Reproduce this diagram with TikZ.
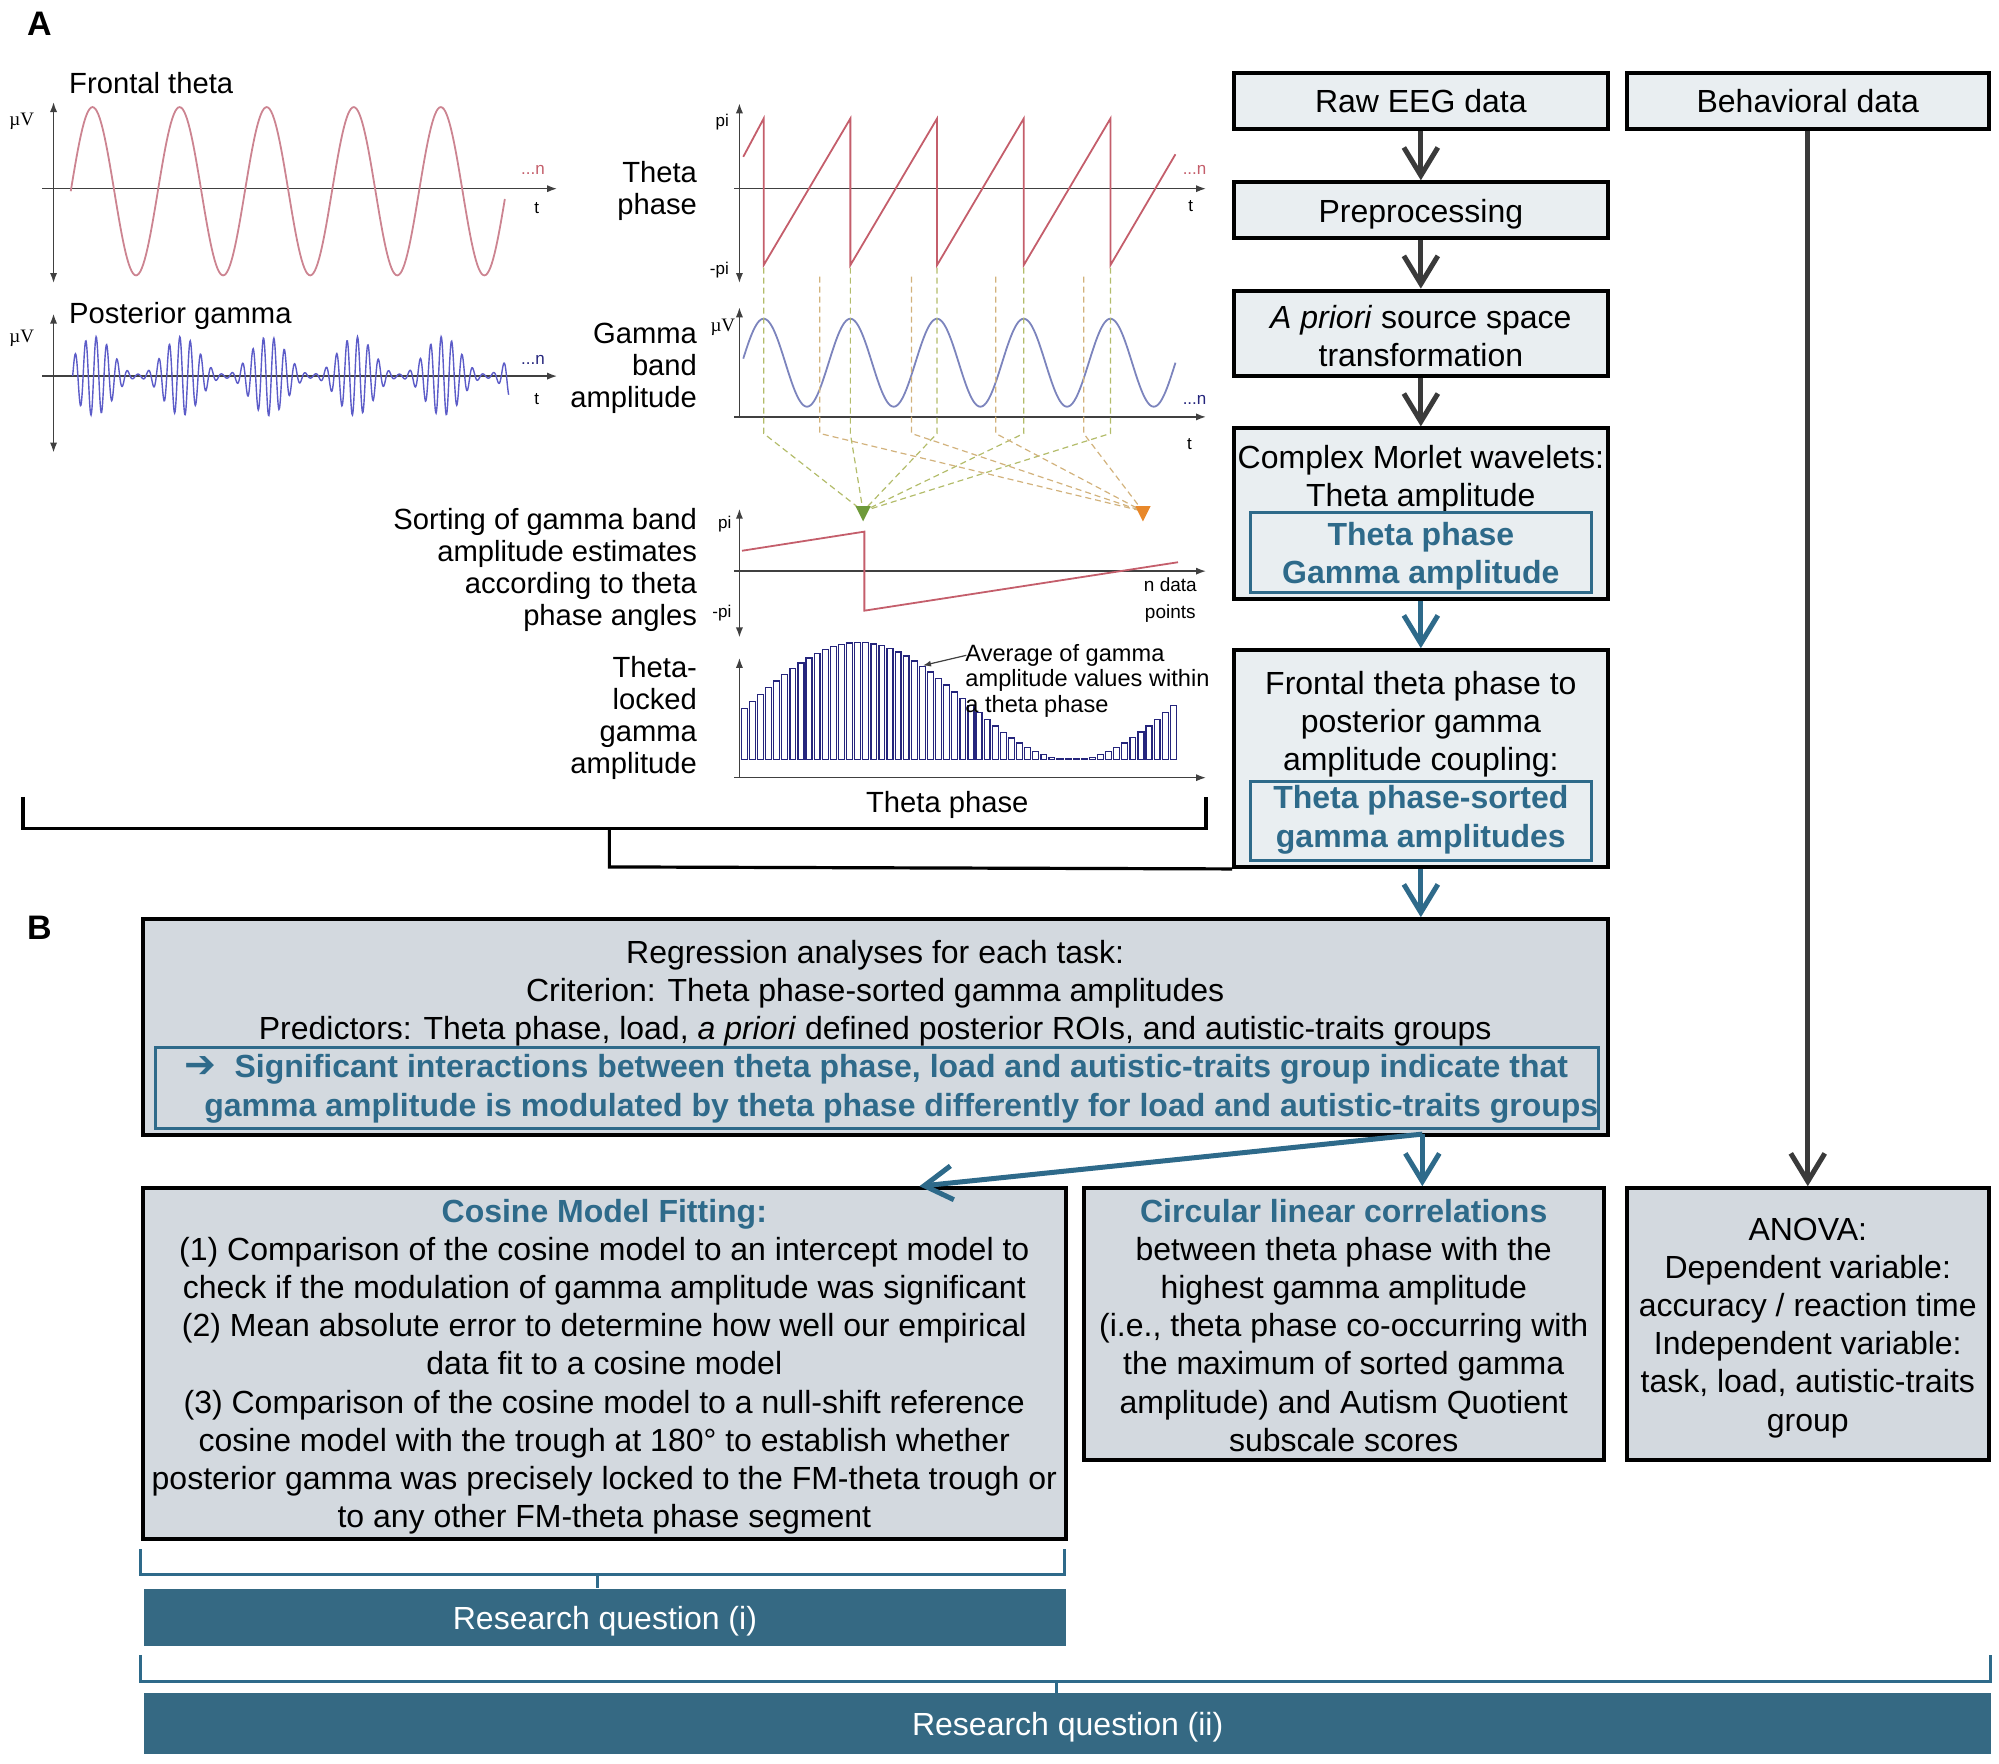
\documentclass[tikz,border=0pt]{standalone}
\usepackage{fontspec}
\setmainfont{Liberation Sans}
\newfontfamily\dejavu{DejaVu Sans}
\newfontfamily\lserif{Liberation Serif}
\usetikzlibrary{arrows.meta,calc}
\definecolor{boxfillA}{HTML}{E9EEF1}
\definecolor{boxfillB}{HTML}{D3D9DF}
\definecolor{bluetxt}{HTML}{2E6A8A}
\definecolor{rqfill}{HTML}{356983}
\definecolor{darkarrow}{HTML}{3A3A3A}
\definecolor{axisgray}{HTML}{404040}
\definecolor{thetared}{HTML}{CC8491}
\definecolor{sawred}{HTML}{C45E6B}
\definecolor{gammablue}{HTML}{5C5CC8}
\definecolor{ampblue}{HTML}{7C84BD}
\definecolor{barnavy}{HTML}{25257C}
\definecolor{dashgreen}{HTML}{B3BC6A}
\definecolor{dashorange}{HTML}{D2B27C}
\definecolor{ptgreen}{HTML}{6E9A3A}
\definecolor{ptorange}{HTML}{E8882A}
\newcommand\boxfont{\fontsize{16}{19.1}\selectfont}
\newcommand\plotfont{\fontsize{14.6}{15.9}\selectfont}
\newcommand\tickfont{\fontsize{8.5}{10}\selectfont}
\newcommand\annfont{\fontsize{11.8}{12.75}\selectfont}
\newcommand\mufont{\lserif\fontsize{9.5}{11}\selectfont}
\newcommand\pxu{0.6375pt}
\begin{document}
\begin{tikzpicture}[x=0.6375pt,y=-0.6375pt,
  wh/.style 2 args={minimum width=#1*\pxu, minimum height=#2*\pxu},
  box/.style={draw=black, line width=2pt, fill=boxfillA, inner sep=0pt},
  boxB/.style={box, fill=boxfillB},
  innerbox/.style={draw=bluetxt, line width=1.5pt, inner sep=0pt},
  bluebold/.style={text=bluetxt, font=\boxfont\bfseries, align=center, inner sep=0pt},
  txt/.style={font=\boxfont, align=center, inner sep=0pt},
  rq/.style={fill=rqfill, draw=none, inner sep=0pt},
  graydown/.style={draw=darkarrow, line width=2.5pt, -{Straight Barb[length=14pt,width=17pt]}},
  bluedown/.style={graydown, draw=bluetxt},
  bracket/.style={line width=1.6pt, draw=black},
  bbracket/.style={line width=1.4pt, draw=bluetxt},
  ax/.style={draw=axisgray, line width=0.75pt},
  axr/.style={ax, -{Latex[length=5pt,width=3.6pt]}},
  axb/.style={ax, {Latex[length=5pt,width=3.6pt]}-{Latex[length=5pt,width=3.6pt]}},
  plotlab/.style={font=\plotfont, inner sep=0pt},
  ticklab/.style={font=\tickfont, inner sep=0pt},
  mulab/.style={font=\mufont, inner sep=0pt},
  dashG/.style={draw=dashgreen, line width=0.6pt, dash pattern=on 3pt off 2pt},
  dashO/.style={draw=dashorange, line width=0.6pt, dash pattern=on 3pt off 2pt},
  panel/.style={font=\fontsize{17}{20}\selectfont\bfseries, inner sep=0pt}
]
\useasboundingbox (0,0) rectangle (1568,1383.6);

% ---------- panel labels
\node[panel] (labA) at (31,19) {A};
\node[panel] (labB) at (31,727.5) {B};

% ---------- frontal theta plot
\node[plotlab, anchor=west] (ftl) at (54,65) {Frontal theta};
\node[mulab] (mu1) at (17,95) {µV};
\draw[axb] (42,80) -- (42,222);
\draw[axr] (33,148) -- (437,148);
\draw[thetared, line width=0.9pt] plot[domain=55.5:396, samples=300] (\x,{150-66*sin(5.2709*(\x-55.5))});
\node[ticklab, text=sawred] (n1) at (418,133) {...n};
\node[ticklab] (t1) at (421,163) {t};

% ---------- posterior gamma plot
\node[plotlab, anchor=west] (pgl) at (54,247.5) {Posterior gamma};
\node[mulab] (mu2) at (17,265) {µV};
\draw[axb] (42,246) -- (42,355);
\draw[axr] (33,295) -- (437,295);
\draw[gammablue, line width=0.7pt] plot[domain=57:399, samples=950]
  (\x,{295-31*(0.05+0.95*(0.501+0.5*cos(5.2709*(\x-74)))^1.2)*sin(43.902*(\x-57))});
\node[ticklab, text=barnavy] (n2) at (418,282) {...n};
\node[ticklab] (t2) at (421,313) {t};

% ---------- theta phase plot
\node[plotlab, align=right, anchor=east] (thph) at (547,150) {Theta\\phase};
\node[ticklab, anchor=east] (pi1) at (572,96) {pi};
\node[ticklab, anchor=east] (mpi1) at (572,212) {-pi};
\draw[axb] (580,81) -- (580,222);
\draw[axr] (576,148) -- (946,148);
\draw[sawred, line width=0.9pt] (583,123) -- (599,93) -- (599,208) -- (667,93) -- (667,208) -- (735,93)
  -- (735,208) -- (803,93) -- (803,208) -- (871,93) -- (871,208) -- (922,121);
\node[ticklab, text=sawred] (n3) at (937,133) {...n};
\node[ticklab] (t3) at (934,162) {t};

% ---------- gamma band amplitude plot
\node[plotlab, align=right, anchor=east] (gba) at (547,289) {Gamma\\band\\amplitude};
\node[mulab] (mu3) at (567,257) {µV};
\draw[axr] (580,327) -- (580,241);
\draw[axr] (576,327) -- (946,327);
\draw[ampblue, line width=0.9pt] plot[domain=583:922, samples=300] (\x,{284.5-34.5*cos(5.2941*(\x-599))});
\node[ticklab, text=barnavy] (n4) at (937,314) {...n};
\node[ticklab] (t4) at (933,348) {t};

% ---------- dashed sorting lines
\foreach \xx in {599,667,735,803,871} \draw[dashG] (\xx,210) -- (\xx,340) -- (677,401);
\foreach \xx in {643,715,781,850} \draw[dashO] (\xx,217) -- (\xx,340) -- (896.5,401);
\fill[ptgreen] (671,397) -- (683,397) -- (677,409) -- cycle;
\fill[ptorange] (890.5,397) -- (902.5,397) -- (896.5,409) -- cycle;

% ---------- sorted phase plot
\node[plotlab, align=right, anchor=east] (sort) at (547,447) {Sorting of gamma band\\amplitude estimates\\according to theta\\phase angles};
\node[ticklab, anchor=east] (pi2) at (574,411) {pi};
\node[ticklab, anchor=east] (mpi2) at (574,481) {-pi};
\draw[axb] (580,399) -- (580,500);
\draw[axr] (576,448) -- (946,448);
\draw[sawred, line width=0.9pt] (582,432) -- (678,417) -- (678,479) -- (924,441);
\node[ticklab, font=\fontsize{9.5}{11}\selectfont] (nd) at (918,459) {n data};
\node[ticklab, font=\fontsize{9.5}{11}\selectfont] (np) at (918,481) {points};

% ---------- bar plot
\node[plotlab, align=right, anchor=east] (tlga) at (547,563) {Theta-\\locked\\gamma\\amplitude};
\draw[axr] (580,610) -- (580,516);
\draw[axr] (576,610) -- (946,610);
\foreach \i in {0,...,53}{
  \pgfmathsetmacro\xa{581.5+6.35*\i}
  \pgfmathsetmacro\hh{max(1.2,46+46*cos(1.0778*(\xa-671.6)))}
  \draw[barnavy, line width=0.65pt, fill=white] (\xa,596) rectangle ({\xa+4.6},{596-\hh});
}
\node[plotlab] (thp) at (743,631) {Theta phase};
\node[font=\annfont, inner sep=0pt, align=left, anchor=north west] (ann) at (757,505) {Average of gamma\\amplitude values within\\a theta phase};
\coordinate (annfrom) at (758,514);
\coordinate (annto) at (724,522);
\draw[axisgray, line width=0.6pt, -{Latex[length=4pt,width=3pt]}] (annfrom) -- (annto);

% ---------- flowchart A
\node[box, wh={293}{44}] (raw) at (1114.5,79) {};
\node[txt] (rawT) at (1114.5,79.5) {Raw EEG data};
\node[box, wh={293}{44}] (pre) at (1114.5,165) {};
\node[txt] (preT) at (1114.5,168) {Preprocessing};
\node[box, wh={293}{67}] (apr) at (1114.5,261.5) {};
\node[txt] (aprT) at (1114.5,263.5) {\textit{A priori} source space\\transformation};
\node[box, wh={293}{134}] (morlet) at (1114.5,403) {};
\node[txt] (morletT) at (1114.5,376) {Complex Morlet wavelets:\\Theta amplitude};
\node[innerbox, wh={267}{63}] (morletI) at (1114.5,433.5) {};
\node[bluebold] (morletB) at (1114.5,436) {Theta phase\\Gamma amplitude};
\node[box, wh={293}{170}] (front) at (1114.5,595) {};
\node[txt] (frontT) at (1114.5,568) {Frontal theta phase to\\posterior gamma\\amplitude coupling:};
\node[innerbox, wh={267}{62}] (frontI) at (1114.5,644) {};
\node[bluebold] (frontB) at (1114.5,643) {Theta phase-sorted\\gamma amplitudes};
\node[box, wh={284}{44}] (beh) at (1418,79) {};
\node[txt] (behT) at (1418,79.5) {Behavioral data};

% ---------- panel B
\node[boxB, wh={1149}{169}] (reg) at (686.5,805.5) {};
\node[txt] (regT) at (686.5,779) {Regression analyses for each task:\\Criterion: Theta phase-sorted gamma amplitudes\\Predictors: Theta phase, load, \textit{a priori} defined posterior ROIs, and autistic-traits groups};
\node[innerbox, wh={1132}{63}] (regI) at (688,853.5) {};
\node[bluebold] (regB1) at (687.5,838.5) {{\dejavu\mdseries\fontsize{19}{19}\selectfont ➔}\ \ Significant interactions between theta phase, load and autistic-traits group indicate that};
\node[bluebold] (regB2) at (707,869.5) {gamma amplitude is modulated by theta phase differently for load and autistic-traits groups};

\node[boxB, wh={724}{275}] (cos) at (474,1069.5) {};
\node[txt] (cosT) at (474,1072) {\textcolor{bluetxt}{\bfseries Cosine Model Fitting:}\\(1) Comparison of the cosine model to an intercept model to\\check if the modulation of gamma amplitude was significant\\(2) Mean absolute error to determine how well our empirical\\data fit to a cosine model\\(3) Comparison of the cosine model to a null-shift reference\\cosine model with the trough at 180° to establish whether\\posterior gamma was precisely locked to the FM-theta trough or\\to any other FM-theta phase segment};
\node[boxB, wh={408}{213}] (circ) at (1054,1038.5) {};
\node[txt] (circT) at (1054,1039.5) {\textcolor{bluetxt}{\bfseries Circular linear correlations}\\between theta phase with the\\highest gamma amplitude\\(i.e., theta phase co-occurring with\\the maximum of sorted gamma\\amplitude) and Autism Quotient\\subscale scores};
\node[boxB, wh={284}{213}] (anova) at (1418,1038.5) {};
\node[txt] (anovaT) at (1418,1041.5) {ANOVA:\\Dependent variable:\\accuracy / reaction time\\Independent variable:\\task, load, autistic-traits\\group};
\node[rq, wh={723}{45}] (rq1) at (474.5,1268.5) {};
\node[txt, text=white] (rq1T) at (474.5,1271.5) {Research question (i)};
\node[rq, wh={1449}{48}] (rq2) at (837.5,1352) {};
\node[txt, text=white] (rq2T) at (837.5,1355) {Research question (ii)};

% ---------- arrows
\draw[graydown] (raw) -- (pre);
\draw[graydown] (pre) -- (apr);
\draw[graydown] (apr) -- (morlet);
\draw[bluedown] (morlet) -- (front);
\draw[bluedown] (front.south) -- (front.south |- reg.north);
\draw[graydown] (beh) -- (anova);
\coordinate (regout) at ($(reg.south west)!0.8725!(reg.south east)+(0,-2)$);
\draw[bluedown] (regout) -- ($(cos.north west)!0.84!(cos.north east)$);
\draw[bluedown] (regout) -- (regout |- circ.north);

% ---------- brackets
\draw[bracket] (18,625) -- (18,650) -- (946,650) -- (946,625);
\draw[bracket] (478,650) -- (478,680) -- (front.south west);
\draw[bbracket] (110,1215) -- (110,1235) -- (835,1235) -- (835,1215);
\draw[bbracket] (468.5,1235) -- (rq1.north -| 468.5,0);
\draw[bbracket] (110,1298) -- (110,1319) -- (1561,1319) -- (1561,1298);
\draw[bbracket] (828.5,1319) -- (rq2.north -| 828.5,0);
\end{tikzpicture}
\end{document}
